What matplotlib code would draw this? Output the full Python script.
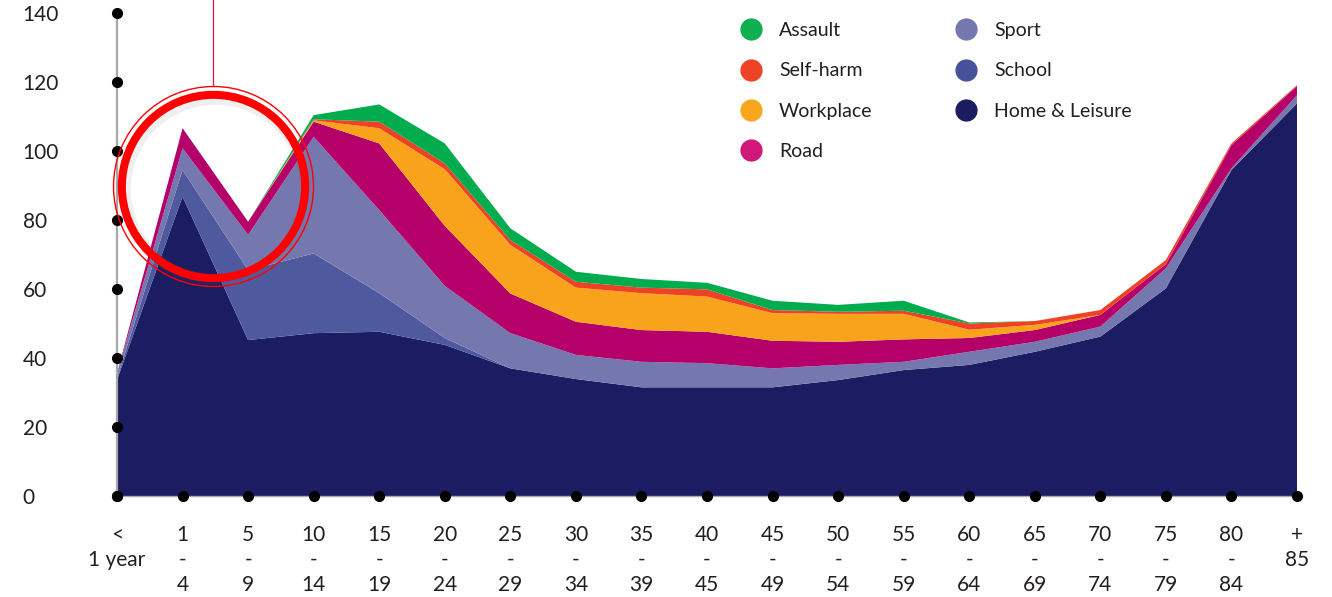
import matplotlib
matplotlib.use("Agg")
import matplotlib.pyplot as plt
from matplotlib.lines import Line2D
import numpy as np

plt.rcParams['font.family'] = ['Lato', 'DejaVu Sans']

# ---------------- data ----------------
categories = ["<\n1 year", "1\n-\n4", "5\n-\n9", "10\n-\n14", "15\n-\n19",
              "20\n-\n24", "25\n-\n29", "30\n-\n34", "35\n-\n39", "40\n-\n45",
              "45\n-\n49", "50\n-\n54", "55\n-\n59", "60\n-\n64", "65\n-\n69",
              "70\n-\n74", "75\n-\n79", "80\n-\n84", "+\n85"]

home_leisure = [33.6, 86.8, 45.2, 47.2, 47.6, 43.8, 37.0, 33.9, 31.5, 31.5,
                31.5, 33.6, 36.5, 38.0, 41.8, 46.2, 60.2, 94.5, 113.8]
school = [0.5, 7.7, 20.3, 23.1, 11.2, 2.0, 0, 0, 0, 0,
          0, 0, 0, 0, 0, 0, 0, 0, 0]
sport = [1.5, 6.3, 10.2, 33.8, 24.1, 15.1, 10.2, 7.0, 7.4, 7.0,
         5.5, 4.4, 2.4, 3.8, 2.9, 2.9, 5.8, 0.5, 2.4]
road = [0, 5.8, 3.8, 4.4, 19.3, 17.4, 11.5, 9.6, 9.2, 9.1,
        8.0, 6.7, 6.5, 4.0, 3.4, 3.4, 1.2, 6.7, 2.6]
workplace = [0, 0, 0, 0.4, 4.4, 16.4, 14.1, 9.9, 10.7, 10.2,
             8.0, 8.1, 7.4, 2.4, 1.5, 0, 0, 0, 0]
self_harm = [0, 0, 0, 0.3, 1.9, 1.7, 1.4, 1.7, 1.6, 2.1,
             0.9, 0.6, 0.9, 1.8, 1.1, 1.4, 1.2, 0.5, 0.3]
assault = [0, 0, 0, 1.2, 5.0, 5.8, 3.4, 2.9, 2.5, 1.9,
           2.7, 2.0, 2.9, 0.3, 0, 0, 0, 0, 0]

yticks = [0, 20, 40, 60, 80, 100, 120, 140]

series_names = ["Home & Leisure", "School", "Sport", "Road", "Workplace", "Self-harm", "Assault"]
fill_colors = ["#1B1C62", "#4F5A9E", "#7478AE", "#B5006A", "#F8A31B", "#EE4224", "#00AC4E"]
legend_order = ["Assault", "Self-harm", "Workplace", "Road", "Sport", "School", "Home & Leisure"]
legend_colors = {"Assault": "#0DAF4F", "Self-harm": "#EE4326", "Workplace": "#F9A51E",
                 "Road": "#D0187A", "Sport": "#7577AF", "School": "#45519A",
                 "Home & Leisure": "#1B1C5F"}

# ---------------- figure ----------------
W, H = 1332, 597
fig = plt.figure(figsize=(W / 100, H / 100), dpi=100)
ax = fig.add_axes([117 / W, (H - 496) / H, (1297 - 117) / W, (496 - 13) / H])

x = np.arange(len(categories))
ax.stackplot(x, home_leisure, school, sport, road, workplace, self_harm, assault,
             colors=fill_colors, linewidth=0)

ax.set_xlim(0, len(categories) - 1)
ax.set_ylim(0, 140)

for s in ["top", "right"]:
    ax.spines[s].set_visible(False)
ax.spines["left"].set_color("#A8A8A8")
ax.spines["left"].set_linewidth(1.6)
ax.spines["bottom"].set_color("#A8A8A8")
ax.spines["bottom"].set_linewidth(1.0)

ax.set_yticks(yticks)
ax.set_yticklabels([str(v) for v in yticks])
ax.set_xticks(x)
ax.set_xticklabels(categories, linespacing=1.3)
ax.tick_params(axis="y", length=0, pad=68, labelsize=15, labelcolor="#231F20")
ax.tick_params(axis="x", length=0, pad=21, labelsize=15, labelcolor="#231F20")
for lab in ax.get_yticklabels():
    lab.set_horizontalalignment("left")

# axis dots
ax.plot(np.zeros(len(yticks)), yticks, "o", color="black", ms=7, clip_on=False, zorder=6)
ax.plot(x, np.zeros(len(x)), "o", color="black", ms=7, clip_on=False, zorder=6)

# highlight circle around the 1-4 / 5-9 peak
cx, cy = 1.47, 90
ax.plot([cx + 0.03], [cy - 0.9], "o", ms=130, mfc="none", mec="#666666", mew=8,
        alpha=0.10, clip_on=False, zorder=7)
ax.plot([cx], [cy], "o", ms=132, mfc="none", mec="#FF0000", mew=5.8, clip_on=False, zorder=8)
ax.plot([cx], [cy], "o", ms=144, mfc="none", mec="#FF0000", mew=1.0, clip_on=False, zorder=8)
ax.plot([cx, cx], [119.0, 144.5], color="#E0103C", lw=0.9, clip_on=False, zorder=8)

# legend
handles = [Line2D([], [], marker="o", ls="none", ms=15, color=legend_colors[n], label=n)
           for n in legend_order]
fig.legend(handles=handles, ncol=2, loc="upper left", bbox_to_anchor=(741 / W, 1 - 22 / H),
           frameon=False, fontsize=14, handlelength=1.0, handletextpad=0.95,
           columnspacing=4.3, labelspacing=1.2, borderpad=0, borderaxespad=0,
           labelcolor="#231F20")

fig.savefig("out.png", dpi=100)
